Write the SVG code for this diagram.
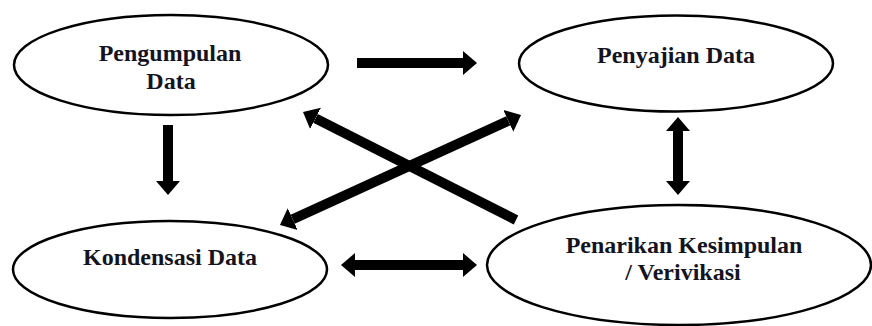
<svg xmlns="http://www.w3.org/2000/svg" width="872" height="326" viewBox="0 0 872 326">
<style>
.node ellipse{fill:#fff;stroke:#000;stroke-width:2.5}
.node text{font-family:'Liberation Serif','DejaVu Serif',serif;font-weight:700;font-size:24px;fill:#14141f;text-anchor:middle}
.conn line{stroke:#000;stroke-width:10;fill:none}
</style>
<defs>
<marker id="head" markerUnits="userSpaceOnUse" markerWidth="16" markerHeight="26" viewBox="0 -13 16 26" refX="0" refY="0" orient="auto-start-reverse">
<path d="M0,-12 L14,0 L0,12 z" fill="#000"/>
</marker>
</defs>
<rect width="872" height="326" fill="#fff"/>
<g id="connectors" class="conn">
<line x1="357" y1="63" x2="463" y2="63" marker-end="url(#head)"/>
<line x1="168" y1="125" x2="168" y2="181" marker-end="url(#head)"/>
<line x1="678" y1="131" x2="678" y2="181" marker-start="url(#head)" marker-end="url(#head)"/>
<line x1="355" y1="265" x2="463" y2="265" marker-start="url(#head)" marker-end="url(#head)"/>
<line x1="516" y1="220" x2="315.5" y2="118.4" marker-end="url(#head)"/>
<line x1="292.7" y1="219.2" x2="508.3" y2="120.8" marker-start="url(#head)" marker-end="url(#head)"/>
</g>
<g id="pengumpulan" class="node">
<ellipse cx="171" cy="65" rx="157" ry="50"/>
<text x="170" y="61" font-family="Liberation Serif, serif">Pengumpulan</text>
<text x="171" y="89" font-family="Liberation Serif, serif">Data</text>
</g>
<g id="penyajian" class="node">
<ellipse cx="676" cy="63.5" rx="157" ry="48"/>
<text x="676" y="63" font-family="Liberation Serif, serif">Penyajian Data</text>
</g>
<g id="kondensasi" class="node">
<ellipse cx="170" cy="269.5" rx="157" ry="48.5"/>
<text x="170" y="265" font-family="Liberation Serif, serif">Kondensasi Data</text>
</g>
<g id="penarikan" class="node">
<ellipse cx="679" cy="265" rx="192" ry="60"/>
<text x="684" y="253" font-family="Liberation Serif, serif">Penarikan Kesimpulan</text>
<text x="683" y="280" font-family="Liberation Serif, serif">/ Verivikasi</text>
</g>
</svg>
